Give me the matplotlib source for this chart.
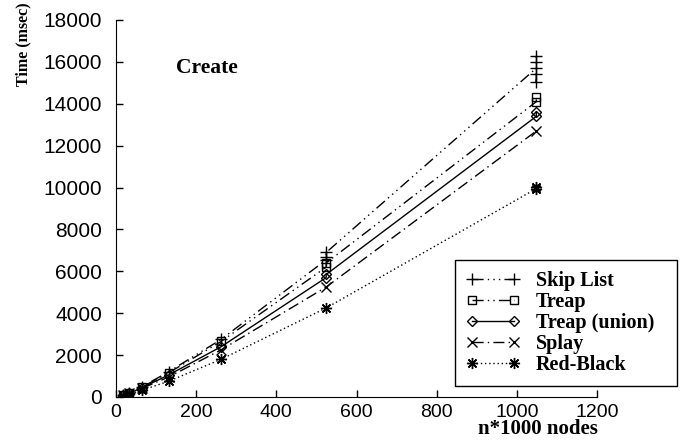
import matplotlib
matplotlib.use("Agg")
import matplotlib.pyplot as plt

# node counts (n*1000), several runs at the two largest sizes
sizes = [16.384, 32.768, 65.536, 131.072, 262.144, 524.288, 1048.576]

skip_x = sizes[:5] + [524.288] * 3 + [1048.576] * 5
skip_y = [100, 200, 500, 1200, 2750, 6550, 6700, 6900, 15700, 15050, 15400, 16000, 16300]

treap_x = sizes[:5] + [524.288] * 2 + [1048.576] * 2
treap_y = [95, 190, 480, 1150, 2650, 6200, 6400, 14100, 14300]

union_x = sizes[:5] + [524.288] * 2 + [1048.576] * 2
union_y = [90, 180, 450, 1050, 2400, 5700, 5850, 13400, 13600]

splay_x = sizes
splay_y = [85, 170, 420, 950, 2250, 5250, 12700]

rb_x = sizes[:6] + [1048.576] * 2
rb_y = [70, 140, 330, 750, 1800, 4250, 9950, 10050]

labels = ["Skip List", "Treap", "Treap (union)", "Splay", "Red-Black"]

serif = "Liberation Serif"
sans = "Liberation Sans"

fig = plt.figure(figsize=(6.89, 4.41), dpi=100)
ax = fig.add_axes([116 / 689, 1 - 397 / 441, (597 - 116) / 689, (397 - 20) / 441])

kw = dict(color="black", lw=1.0, mew=1.0)
ax.plot(skip_x, skip_y, ls=(0, (8, 3, 1, 3, 1, 3, 1, 3)), marker="+", ms=8, label=labels[0], **kw)
ax.plot(treap_x, treap_y, ls=(0, (8, 3, 1, 3, 1, 3)), marker="s", ms=5.5, fillstyle="none", label=labels[1], **kw)
ax.plot(union_x, union_y, ls="-", marker="D", ms=5.5, fillstyle="none", label=labels[2], **kw)
ax.plot(splay_x, splay_y, ls=(0, (8, 3, 1, 3)), marker="x", ms=6.5, label=labels[3], **kw)
ax.plot(rb_x, rb_y, ls=(0, (1, 2)), marker=(8, 2, 0), ms=8, label=labels[4], **kw)

ax.set_xlim(0, 1200)
ax.set_ylim(0, 18000)
ax.set_xticks(range(0, 1201, 200))
ax.set_yticks(range(0, 18001, 2000))
for s in ["top", "right"]:
    ax.spines[s].set_visible(False)
ax.tick_params(direction="in", length=5, width=1)
ax.tick_params(axis="x", labelsize=14, pad=5)
ax.tick_params(axis="y", labelsize=15, pad=10)
for t in ax.get_xticklabels() + ax.get_yticklabels():
    t.set_family(sans)

ax.text(226, 15700, "Create", fontfamily=serif, fontweight="bold", fontsize=15.5, ha="center", va="center")
fig.text(23 / 689, 1 - 44 / 441, "Time (msec)", rotation=90, fontfamily=serif, fontweight="bold",
         fontsize=11.5, ha="center", va="center")
fig.text(538 / 689, 1 - 429 / 441, "n*1000 nodes", fontfamily=serif, fontweight="bold",
         fontsize=15, ha="center", va="center")

leg = ax.legend(loc="lower left", bbox_to_anchor=(455 / 689, 1 - 386 / 441, (677 - 455) / 689, (386 - 262) / 441),
                bbox_transform=fig.transFigure, mode="expand", numpoints=2, handlelength=2.7,
                handletextpad=0.75, labelspacing=0.05, borderpad=0.55, borderaxespad=0,
                fancybox=False, framealpha=1, edgecolor="black",
                prop={"family": serif, "weight": "bold", "size": 14.5})
leg.get_frame().set_linewidth(1.0)

fig.savefig("out.png", dpi=100)
